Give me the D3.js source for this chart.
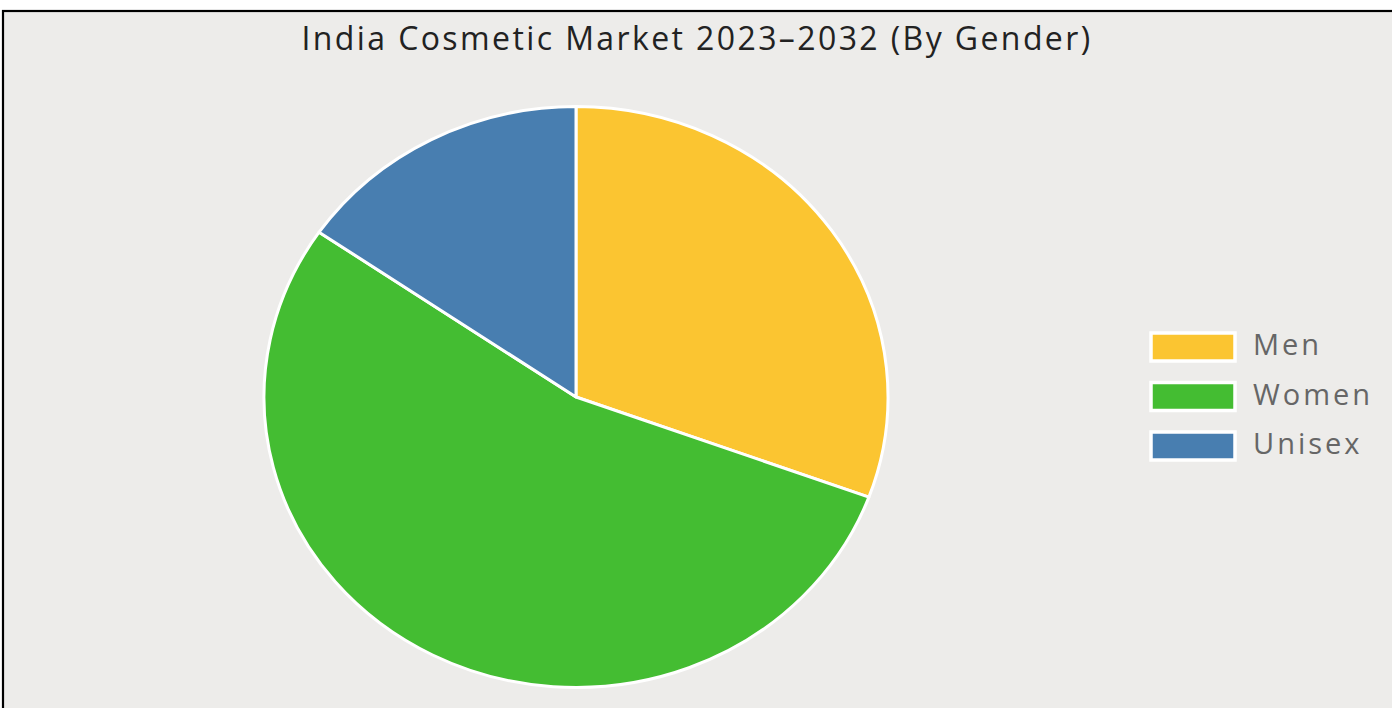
<!DOCTYPE html>
<html>
<head>
<meta charset="utf-8">
<script src="https://cdn.jsdelivr.net/npm/d3@7"></script>
<style>
  html, body { margin: 0; padding: 0; background: #ffffff; }
  svg { display: block; }
</style>
</head>
<body>
<svg id="chart" width="1392" height="708"></svg>
<script>
// Market share by gender
const categories = ["Men", "Women", "Unisex"];
const shares = [30.6, 54.0, 15.4];
const colors = ["#fbc531", "#44bd32", "#487eb0"];
const titleText = "India Cosmetic Market 2023\u20132032 (By Gender)";

const svg = d3.select("#chart");
const W = 1392, H = 708;

// framed panel
svg.append("rect")
  .attr("x", 3).attr("y", 11)
  .attr("width", W + 10).attr("height", H + 10)
  .attr("fill", "#edecea")
  .attr("stroke", "#000").attr("stroke-width", 2.2);

svg.append("text")
  .attr("x", 697).attr("y", 50)
  .attr("text-anchor", "middle")
  .attr("font-family", "'Open Sans', sans-serif")
  .attr("font-size", 32)
  .attr("letter-spacing", 2.4)
  .attr("fill", "#222")
  .text(titleText);

// pie, drawn slightly wider than tall
const cx = 576, cy = 397, rx = 312, ry = 290.5;
const data = categories.map((c, i) => ({ name: c, value: shares[i], color: colors[i] }));
const pie = d3.pie().value(d => d.value).sort(null);
const arc = d3.arc().innerRadius(0).outerRadius(ry);

const g = svg.append("g")
  .attr("transform", `translate(${cx},${cy}) scale(${rx / ry},1)`);

g.selectAll("path")
  .data(pie(data))
  .join("path")
  .attr("d", arc)
  .attr("fill", d => d.data.color)
  .attr("stroke", "#fff")
  .attr("stroke-width", 3)
  .attr("stroke-linejoin", "round")
  .attr("vector-effect", "non-scaling-stroke");

// legend
const legend = svg.append("g").attr("transform", "translate(1151,333)");
const row = legend.selectAll("g")
  .data(data)
  .join("g")
  .attr("transform", (d, i) => `translate(0,${i * 49.5})`);

row.append("rect")
  .attr("width", 84).attr("height", 28)
  .attr("fill", d => d.color)
  .attr("stroke", "#fff").attr("stroke-width", 3.5);

row.append("text")
  .attr("x", 102).attr("y", 22)
  .attr("font-family", "'Open Sans', sans-serif")
  .attr("font-size", 29)
  .attr("letter-spacing", 3)
  .attr("fill", "#666")
  .text(d => d.name);
</script>
</body>
</html>
